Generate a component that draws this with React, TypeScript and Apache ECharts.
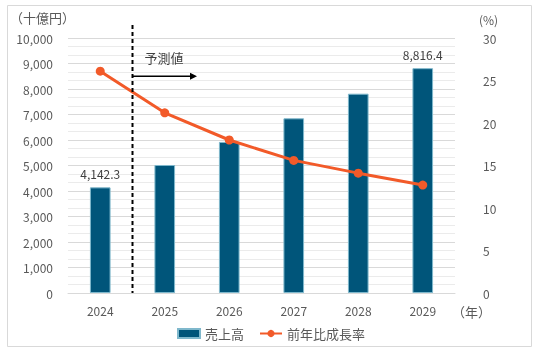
import { useEffect, useRef } from "react";
import * as echarts from "echarts";

const years = ["2024", "2025", "2026", "2027", "2028", "2029"];
const sales = [4142.3, 5020, 5925, 6850, 7816, 8816.4];
const growth = [26.1, 21.2, 18.0, 15.6, 14.1, 12.7];
const labeledIdx = [0, 5];
const salesName = "売上高";
const growthName = "前年比成長率";
const forecastText = "予測値";

const FONT = "'Noto Sans CJK JP', 'Noto Sans', sans-serif";

const fmt = (v: number) =>
  v.toLocaleString("en-US", { maximumFractionDigits: 1 });

export default function App() {
  const ref = useRef<HTMLDivElement>(null);
  useEffect(() => {
    if (!ref.current) return;
    const chart = echarts.init(ref.current, null, { renderer: "svg" });
    chart.setOption({
      animation: false,
      textStyle: { fontFamily: FONT },
      grid: { left: 68, right: 88, top: 38, bottom: 60 },
      legend: {
        left: 172,
        top: 322,
        itemGap: 15,
        itemWidth: 22,
        itemHeight: 9,
        textStyle: { color: "#595959", fontSize: 13, fontFamily: FONT },
        data: [
          { name: salesName, icon: "rect" },
          { name: growthName },
        ],
      },
      xAxis: {
        type: "category",
        data: years,
        axisTick: { show: false },
        axisLine: { lineStyle: { color: "#d9d9d9", width: 1 } },
        axisLabel: { color: "#595959", fontSize: 12, margin: 11, fontFamily: FONT },
      },
      yAxis: [
        {
          type: "value",
          min: 0,
          max: 10000,
          interval: 1000,
          axisLine: { show: false },
          axisTick: { show: false },
          axisLabel: {
            color: "#595959",
            fontSize: 12,
            margin: 15,
            fontFamily: FONT,
            formatter: (v: number) => fmt(v),
          },
          splitLine: { lineStyle: { color: "#d9d9d9", width: 1 } },
          minorTick: { show: false, splitNumber: 3 },
          minorSplitLine: { show: true, lineStyle: { color: "#ebebeb", width: 1 } },
        },
        {
          type: "value",
          min: 0,
          max: 30,
          interval: 5,
          axisLine: { show: false },
          axisTick: { show: false },
          splitLine: { show: false },
          axisLabel: { color: "#595959", fontSize: 12, margin: 28, fontFamily: FONT },
        },
      ],
      series: [
        {
          name: salesName,
          type: "bar",
          barWidth: "32%",
          itemStyle: { color: "#00557A", borderColor: "#7fb8cc", borderWidth: 1 },
          data: sales.map((v, i) => ({
            value: v,
            label: {
              show: labeledIdx.includes(i),
              position: "top",
              distance: 8,
              color: "#404040",
              fontSize: 12,
              fontFamily: FONT,
              formatter: () => fmt(v),
            },
          })),
        },
        {
          name: growthName,
          type: "line",
          yAxisIndex: 1,
          data: growth,
          symbol: "circle",
          symbolSize: 9,
          lineStyle: { color: "#F25A29", width: 3 },
          itemStyle: { color: "#F25A29" },
          z: 5,
        },
      ],
    });

    const xa = chart.convertToPixel({ xAxisIndex: 0 }, years[0]) as number;
    const xb = chart.convertToPixel({ xAxisIndex: 0 }, years[1]) as number;
    const step = xb - xa;
    const xDiv = (xa + xb) / 2;
    const yTop = chart.convertToPixel({ yAxisIndex: 0 }, 10000) as number;
    const yZero = chart.convertToPixel({ yAxisIndex: 0 }, 0) as number;
    const yArrow = chart.convertToPixel({ yAxisIndex: 0 }, 8500) as number;
    const yText = chart.convertToPixel({ yAxisIndex: 0 }, 9250) as number;
    const xArrowEnd = xDiv + step;

    chart.setOption({
      graphic: [
        {
          type: "rect",
          shape: { x: 7.5, y: 5.5, width: 524, height: 341 },
          style: { fill: "none", stroke: "#d9d9d9", lineWidth: 1 },
          silent: true,
        },
        {
          type: "text",
          x: 10,
          y: 17,
          style: {
            text: "（十億円）",
            fill: "#595959",
            fontSize: 13,
            fontFamily: FONT,
            verticalAlign: "middle",
          },
        },
        {
          type: "text",
          x: 479,
          y: 19,
          style: {
            text: "(%)",
            fill: "#595959",
            fontSize: 12,
            fontFamily: FONT,
            verticalAlign: "middle",
          },
        },
        {
          type: "text",
          x: 452,
          y: yZero + 18,
          style: {
            text: "（年）",
            fill: "#595959",
            fontSize: 13,
            fontFamily: FONT,
            verticalAlign: "middle",
          },
        },
        {
          type: "line",
          shape: { x1: xDiv, y1: yTop - 13, x2: xDiv, y2: yZero },
          style: { stroke: "#000", lineWidth: 2, lineDash: [4, 3] },
          z: 10,
        },
        {
          type: "line",
          shape: { x1: xDiv, y1: yArrow, x2: xArrowEnd - 6, y2: yArrow },
          style: { stroke: "#000", lineWidth: 1.5 },
          z: 10,
        },
        {
          type: "polygon",
          shape: {
            points: [
              [xArrowEnd, yArrow],
              [xArrowEnd - 7, yArrow - 3.5],
              [xArrowEnd - 7, yArrow + 3.5],
            ],
          },
          style: { fill: "#000" },
          z: 10,
        },
        {
          type: "text",
          x: xDiv + 12,
          y: yText,
          style: {
            text: forecastText,
            fill: "#404040",
            fontSize: 13,
            fontFamily: FONT,
            verticalAlign: "middle",
          },
          z: 10,
        },
      ],
    });

    return () => chart.dispose();
  }, []);
  return (
    <div
      ref={ref}
      style={{ position: "fixed", left: 0, top: 0, width: 543, height: 353 }}
    />
  );
}
